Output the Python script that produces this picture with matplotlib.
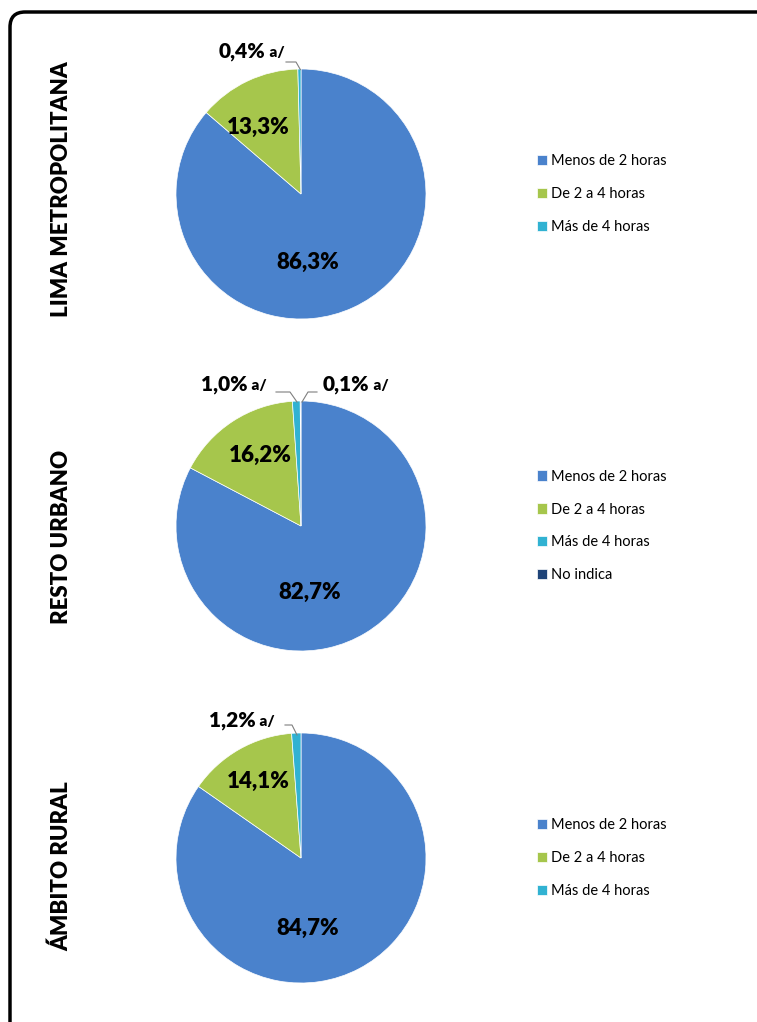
import matplotlib
matplotlib.use("Agg")
import matplotlib.pyplot as plt
from matplotlib.patches import FancyBboxPatch

plt.rcParams["font.family"] = ["Lato", "DejaVu Sans"]

# ------------------------------------------------------------------------------
# data
# ------------------------------------------------------------------------------
regions = ["LIMA METROPOLITANA", "RESTO URBANO", "ÁMBITO RURAL"]
categories = ["Menos de 2 horas", "De 2 a 4 horas", "Más de 4 horas", "No indica"]

lima_values = [86.3, 13.3, 0.4]
resto_values = [82.7, 16.2, 1.0, 0.1]
rural_values = [84.7, 14.1, 1.2]

lima_labels = ["86,3%", "13,3%", "0,4%"]
resto_labels = ["82,7%", "16,2%", "1,0%", "0,1%"]
rural_labels = ["84,7%", "14,1%", "1,2%"]

colors = ["#4A82CC", "#A6C64C", "#31B2D2", "#1F4478"]

W, H = 757, 1022
fig = plt.figure(figsize=(W / 100, H / 100), dpi=100)

# rounded frame (cropped at right and bottom, like the source)
frame = FancyBboxPatch((10 / W, -0.05), 1.2, 1 - 12 / H + 0.05,
                       boxstyle="round,pad=0,rounding_size=0.02",
                       transform=fig.transFigure, fill=False,
                       edgecolor="black", linewidth=2.5, mutation_aspect=W / H)
fig.patches.append(frame)

R_PX = 125
HALF = 1.4

panels = [
    # values, labels, pie centre y (px), region label y (px)
    (lima_values, lima_labels, 194, 189),
    (resto_values, resto_labels, 526, 537),
    (rural_values, rural_labels, 858, 866),
]

# label positions in pie units: big slice, green slice, small slices
big_pos = [(0.056, -0.55), (0.072, -0.53), (0.056, -0.56)]
green_pos = [(-0.344, 0.536), (-0.328, 0.568), (-0.344, 0.616)]
# small labels: (text x, text y, side, leader points)
small_pos = [
    [(-0.264, 1.136, "left", [(-0.12, 1.056), (-0.04, 1.056), (-0.005, 0.995)])],
    [(-0.408, 1.128, "left", [(-0.2, 1.072), (-0.088, 1.072), (-0.032, 0.992)]),
     (0.176, 1.128, "right", [(0.128, 1.072), (0.056, 1.072), (0.008, 0.992)])],
    [(-0.344, 1.096, "left", [(-0.128, 1.064), (-0.072, 1.064), (-0.032, 0.984)])],
]

for i, (vals, labs, cy, ly) in enumerate(panels):
    size = 2 * HALF * R_PX
    ax = fig.add_axes([(301 - size / 2) / W, 1 - (cy + size / 2) / H, size / W, size / H])
    wedges, _ = ax.pie(vals, colors=colors[:len(vals)], startangle=90, counterclock=False,
                       radius=1, wedgeprops=dict(edgecolor="white", linewidth=0.5))
    ax.set_xlim(-HALF, HALF)
    ax.set_ylim(-HALF, HALF)
    ax.set_aspect("equal")
    ax.axis("off")

    ax.text(*big_pos[i], labs[0], ha="center", va="center", fontsize=16, fontweight="heavy")
    ax.text(*green_pos[i], labs[1], ha="center", va="center", fontsize=16, fontweight="heavy")

    for k, (tx, ty, side, pts) in enumerate(small_pos[i]):
        lab = labs[2 + k]
        if side == "left":
            t = ax.text(tx - 0.02, ty, lab, ha="right", va="center", fontsize=15, fontweight="heavy")
        else:
            t = ax.text(tx, ty, lab, ha="left", va="center", fontsize=15, fontweight="heavy")
        ax.annotate(" a/", xy=(1, 0.12), xycoords=t, ha="left", va="bottom",
                    fontsize=11, fontweight="heavy")
        xs = [p[0] for p in pts]
        ys = [p[1] for p in pts]
        ax.plot(xs, ys, color="#7F7F7F", linewidth=0.8, clip_on=False)

    fig.legend(wedges, categories[:len(vals)], loc="center left",
               bbox_to_anchor=(524 / W, 1 - cy / H), frameon=False, fontsize=10.5,
               handlelength=0.7, handleheight=0.7, handletextpad=0.25,
               labelspacing=1.3)

    fig.text(62 / W, 1 - ly / H, regions[i], rotation=90, ha="center", va="center",
             fontsize=16, fontweight="heavy")

fig.savefig("out.png", dpi=100)
